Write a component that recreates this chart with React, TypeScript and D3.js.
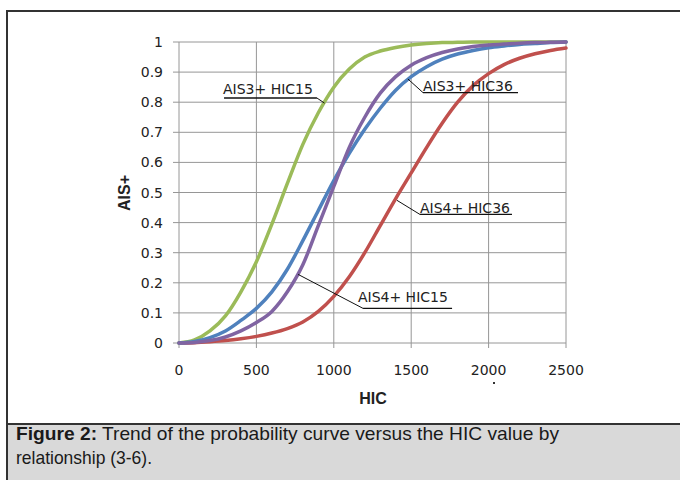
import React from "react";
import * as d3 from "d3";

const hic = [0,100,200,300,400,500,600,700,800,900,1000,1100,1200,1300,1400,1500,1600,1700,1800,1900,2000,2100,2200,2300,2400,2500];
const ais3Hic15 = [0,0.01,0.04,0.09,0.17,0.27,0.395,0.53,0.66,0.765,0.85,0.91,0.95,0.97,0.982,0.99,0.995,0.998,0.999,1,1,1,1,1,1,1];
const ais3Hic36 = [0,0.005,0.018,0.04,0.075,0.115,0.17,0.245,0.34,0.44,0.54,0.63,0.71,0.78,0.84,0.885,0.918,0.943,0.96,0.972,0.981,0.987,0.992,0.995,0.998,1];
const ais4Hic15 = [0,0.002,0.008,0.02,0.04,0.068,0.105,0.17,0.26,0.39,0.52,0.65,0.75,0.83,0.885,0.923,0.948,0.965,0.977,0.985,0.99,0.993,0.996,0.998,0.999,1];
const ais4Hic36 = [0,0.001,0.004,0.008,0.014,0.022,0.033,0.048,0.07,0.105,0.155,0.22,0.3,0.39,0.48,0.565,0.65,0.73,0.8,0.855,0.895,0.925,0.946,0.961,0.972,0.98];

const seriesNames = ["AIS3+ HIC15", "AIS3+ HIC36", "AIS4+ HIC15", "AIS4+ HIC36"];
const seriesValues = [ais3Hic15, ais3Hic36, ais4Hic15, ais4Hic36];
const seriesColors = ["#9BBB59", "#4F81BD", "#8064A2", "#C0504D"];
const drawOrder = [3, 0, 1, 2];

const xTicks = [0, 500, 1000, 1500, 2000, 2500];
const yTicks = [0, 0.1, 0.2, 0.3, 0.4, 0.5, 0.6, 0.7, 0.8, 0.9, 1];

// annotations in data coordinates: label start, baseline, underline, leader end on the curve
const annotations = [
  { text: "AIS3+ HIC15", tx: 284, ty: 0.827, uy: 0.814, u1: 291, u2: 891, lx1: 891, ly1: 0.814, lx2: 940, ly2: 0.797 },
  { text: "AIS3+ HIC36", tx: 1576, ty: 0.838, uy: 0.832, u1: 1576, u2: 2190, lx1: 1576, ly1: 0.832, lx2: 1479, ly2: 0.877 },
  { text: "AIS4+ HIC36", tx: 1557, ty: 0.433, uy: 0.427, u1: 1557, u2: 2151, lx1: 1557, ly1: 0.427, lx2: 1408, ly2: 0.474 },
  { text: "AIS4+ HIC15", tx: 1156, ty: 0.137, uy: 0.115, u1: 1189, u2: 1764, lx1: 1189, ly1: 0.115, lx2: 769, ly2: 0.228 },
];

export default function App() {
  const x = d3.scaleLinear().domain([0, 2500]).range([179, 566]);
  const y = d3.scaleLinear().domain([0, 1]).range([343, 42]);
  const line = d3
    .line<number>()
    .x((_, i) => x(hic[i]))
    .y((d) => y(d))
    .curve(d3.curveMonotoneX);

  const grid = "#969696";
  const txt = "#222";
  const tickFont = "DejaVu Sans";

  return (
    <svg width={680} height={480} style={{ position: "absolute", left: 0, top: 0 }}>
      <rect x={7} y={11} width={700} height={500} fill="#fff" stroke="#333" strokeWidth={2} />
      {/* grid */}
      {yTicks.map((t) => (
        <line key={"gy" + t} x1={x(0) - 6} x2={x(2500)} y1={y(t)} y2={y(t)} stroke={grid} strokeWidth={1} />
      ))}
      {xTicks.map((t) => (
        <line key={"gx" + t} x1={x(t)} x2={x(t)} y1={y(1)} y2={y(0) + 5} stroke={grid} strokeWidth={1} />
      ))}
      {/* y labels */}
      {yTicks.map((t) => (
        <text key={"ly" + t} x={163} y={y(t)} dy="0.36em" textAnchor="end" fontFamily={tickFont} fontSize={14} fill={txt}>
          {d3.format("~g")(t)}
        </text>
      ))}
      {xTicks.map((t) => (
        <text key={"lx" + t} x={x(t)} y={375} textAnchor="middle" fontFamily={tickFont} fontSize={14} fill={txt}>
          {t}
        </text>
      ))}
      <rect x={493} y={382} width={2} height={2} fill="#333" />
      {/* axis titles */}
      <text x={373} y={404} textAnchor="middle" fontFamily="Liberation Sans" fontWeight="bold" fontSize={16} fill={txt}>
        HIC
      </text>
      <text
        transform="translate(130,193) rotate(-90)"
        textAnchor="middle"
        fontFamily="Liberation Sans"
        fontWeight="bold"
        fontSize={16}
        fill={txt}
      >
        AIS+
      </text>
      {/* series */}
      {drawOrder.map((i) => (
        <path
          key={seriesNames[i]}
          d={line(seriesValues[i]) || ""}
          fill="none"
          stroke={seriesColors[i]}
          strokeWidth={3.5}
          strokeLinejoin="round"
          strokeLinecap="round"
        />
      ))}
      {/* annotations */}
      {annotations.map((a) => (
        <g key={a.text}>
          <text x={x(a.tx)} y={y(a.ty)} fontFamily={tickFont} fontSize={14} fill={txt}>
            {a.text}
          </text>
          <line x1={x(a.u1)} x2={x(a.u2)} y1={y(a.uy)} y2={y(a.uy)} stroke="#111" strokeWidth={1.3} />
          <line x1={x(a.lx1)} y1={y(a.ly1)} x2={x(a.lx2)} y2={y(a.ly2)} stroke="#111" strokeWidth={1} />
        </g>
      ))}
      {/* caption */}
      <rect x={7} y={424} width={700} height={100} fill="#d9d9d9" stroke="#333" strokeWidth={2} />
      <text x={16} y={440} fontFamily="Liberation Sans" fontSize={19} fill="#1a1a1a" textLength={543} lengthAdjust="spacingAndGlyphs">
        <tspan fontWeight="bold">Figure 2:</tspan> Trend of the probability curve versus the HIC value by
      </text>
      <text x={16} y={464} fontFamily="Liberation Sans" fontSize={19} fill="#1a1a1a" textLength={136} lengthAdjust="spacingAndGlyphs">
        relationship (3-6).
      </text>
    </svg>
  );
}
